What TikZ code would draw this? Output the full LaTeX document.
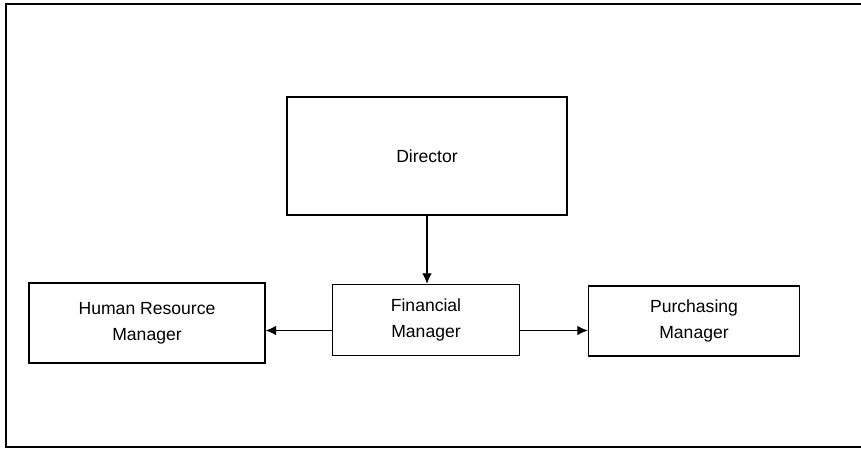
\documentclass[tikz,border=0pt]{standalone}
\usepackage{fontspec}
\setmainfont{Liberation Sans}
\usepackage{tikz}
\usetikzlibrary{arrows.meta}

\begin{document}
\begin{tikzpicture}[x=0.02cm,y=-0.02cm]
\tikzstyle{every node}=[font={\fontsize{10}{15}\selectfont}]
\tikzstyle{post}=[draw,line width=.7pt,align=center,inner sep=0pt]
\tikzstyle{link}=[line width=.7pt,-{Latex[length=6pt,width=5.5pt]}]
\def \dy {0.21cm}
\useasboundingbox (0,0) rectangle (861,450);
% frame (right side cut off)
\draw[line width=.8pt] (870,4) -- (6,4) -- (6,447) -- (870,447);
\draw
  (427,156) node [post,minimum width=5.6cm, minimum height=2.36cm] (dir) {Director}
  (147,323) node [post,minimum width=4.72cm,minimum height=1.6cm]  (hr)  {Human Resource\\Manager}
  (426,320) node [post,minimum width=3.74cm,minimum height=1.42cm] (fin) {Financial\\Manager}
  (694,321) node [post,minimum width=4.22cm,minimum height=1.4cm]  (pur) {Purchasing\\Manager}
;
\draw[link] (dir.south) -- (dir.south |- fin.north);
\draw[link] ([yshift=-\dy]fin.west) coordinate (fw) -- (fw -| hr.east);
\draw[link] ([yshift=-\dy]fin.east) coordinate (fe) -- (fe -| pur.west);
\end{tikzpicture}
\end{document}
